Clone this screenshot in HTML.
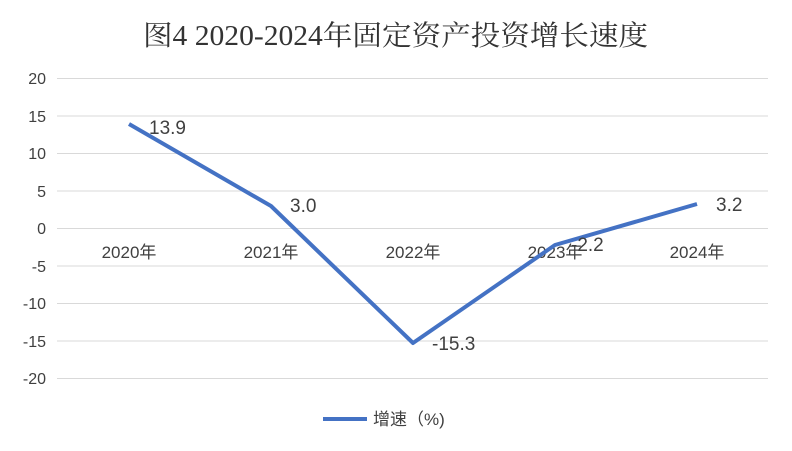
<!DOCTYPE html>
<html><head><meta charset="utf-8"><style>
body{margin:0;background:#fff}
svg{display:block}
text{font-family:"Liberation Sans","Noto Sans CJK SC",sans-serif;fill:#404040}
</style></head><body>
<svg width="792" height="451" viewBox="0 0 792 451">
<text x="143" y="45" textLength="505" lengthAdjust="spacingAndGlyphs" style="font-family:'Liberation Serif','Noto Serif CJK SC',serif;font-size:28px;fill:#333">图4  2020-2024年固定资产投资增长速度</text>
<g stroke="#d9d9d9" stroke-width="1">
<line x1="57" x2="768" y1="78.5" y2="78.5"/><line x1="57" x2="768" y1="116" y2="116"/>
<line x1="57" x2="768" y1="153.5" y2="153.5"/><line x1="57" x2="768" y1="191" y2="191"/>
<line x1="57" x2="768" y1="228.5" y2="228.5"/><line x1="57" x2="768" y1="266" y2="266"/>
<line x1="57" x2="768" y1="303.5" y2="303.5"/><line x1="57" x2="768" y1="341" y2="341"/>
<line x1="57" x2="768" y1="378.5" y2="378.5"/>
</g>
<g font-size="16" text-anchor="end">
<text x="46" y="84">20</text><text x="46" y="122">15</text><text x="46" y="159">10</text>
<text x="46" y="197">5</text><text x="46" y="234">0</text><text x="46" y="272">-5</text>
<text x="46" y="309">-10</text><text x="46" y="347">-15</text><text x="46" y="384">-20</text>
</g>
<g font-size="17" text-anchor="middle">
<text x="129" y="258">2020年</text><text x="271" y="258">2021年</text><text x="413" y="258">2022年</text>
<text x="555" y="258">2023年</text><text x="697" y="258">2024年</text>
</g>
<polyline points="129,124 271,206 413,343 555,245 697,204" fill="none" stroke="#4472c4" stroke-width="4" stroke-linejoin="round"/>
<g font-size="19" fill="#333">
<text x="149" y="134">13.9</text><text x="290" y="212">3.0</text><text x="432" y="350">-15.3</text>
<text x="571" y="251">-2.2</text><text x="716" y="211">3.2</text>
</g>
<line x1="323" x2="367" y1="419" y2="419" stroke="#4472c4" stroke-width="4"/>
<text x="373" y="425" font-size="17">增速（%)</text>
</svg>
</body></html>
